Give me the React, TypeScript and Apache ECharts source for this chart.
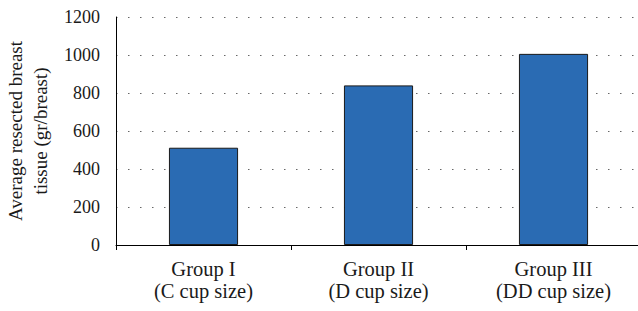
import React, { useEffect, useRef } from "react";
import * as echarts from "echarts";

const categories = ["Group I\n(C cup size)", "Group II\n(D cup size)", "Group III\n(DD cup size)"];
const values = [512, 840, 1006];
const yTicks = [0, 200, 400, 600, 800, 1000, 1200];

export default function App() {
  const ref = useRef<HTMLDivElement>(null);
  useEffect(() => {
    if (!ref.current) return;
    const chart = echarts.init(ref.current, null, { renderer: "svg" });
    const font = "Liberation Serif";
    chart.setOption({
      animation: false,
      backgroundColor: "#fff",
      textStyle: { fontFamily: font },
      grid: { left: 116, top: 17, width: 525, height: 228, outerBoundsMode: "none", containLabel: false },
      xAxis: {
        type: "category",
        data: categories,
        boundaryGap: true,
        axisLine: { lineStyle: { color: "#000", width: 1 } },
        axisTick: { show: true, alignWithLabel: false, length: 5, lineStyle: { color: "#000" } },
        axisLabel: { color: "#1a1a1a", fontFamily: font, fontSize: 20.5, lineHeight: 22, margin: 13 },
      },
      yAxis: {
        type: "value",
        min: yTicks[0],
        max: yTicks[yTicks.length - 1],
        interval: 200,
        name: "Average resected breast\ntissue (gr/breast)",
        nameLocation: "middle",
        nameGap: 61,
        nameTextStyle: { color: "#1a1a1a", fontFamily: font, fontSize: 19, lineHeight: 25 },
        axisLine: { show: true, lineStyle: { color: "#000", width: 1 } },
        axisTick: { show: false },
        axisLabel: { color: "#1a1a1a", fontFamily: font, fontSize: 18, margin: 16, formatter: (v: number) => String(v) },
        splitLine: { show: true, lineStyle: { color: "#666", width: 1, type: [1.5, 10.5] } },
      },
      series: [
        {
          type: "bar",
          data: values,
          barWidth: "39.5%",
          itemStyle: { color: "#2A6BB3", borderColor: "#1a1a1a", borderWidth: 1 },
        },
      ],
    });
    return () => chart.dispose();
  }, []);
  return <div ref={ref} style={{ width: 638, height: 311, position: "absolute", left: 0, top: 0 }} />;
}
